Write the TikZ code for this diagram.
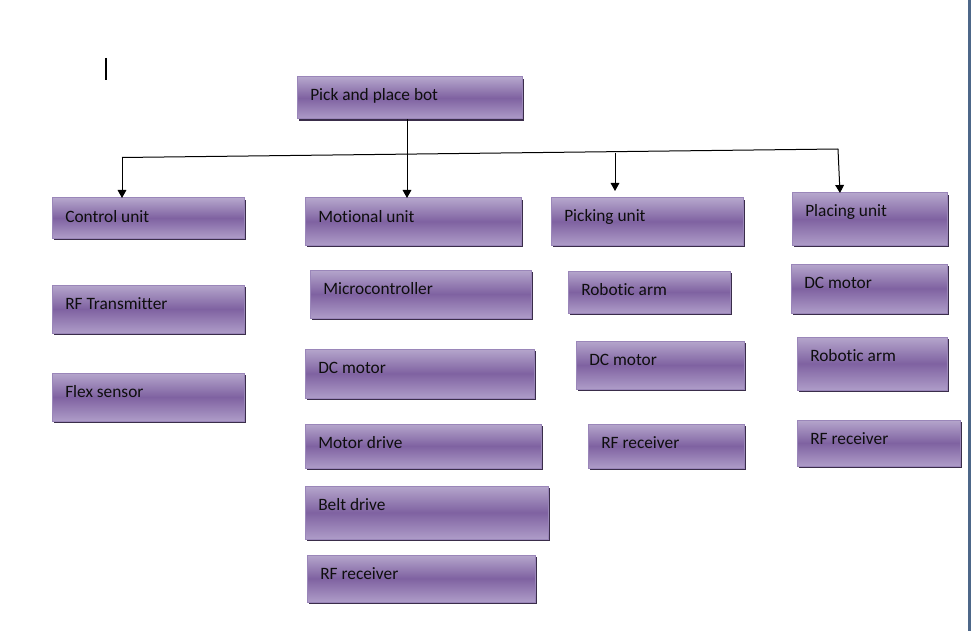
\documentclass[tikz,border=0pt]{standalone}
\usepackage{fontspec}
\setmainfont{Carlito}[Ligatures=NoCommon]
\usetikzlibrary{arrows.meta,shadows}

\definecolor{boxtop}{HTML}{B5A6CC}
\definecolor{boxmid}{HTML}{7F62A1}
\definecolor{boxbot}{HTML}{AE9CC8}
\definecolor{boxedge}{HTML}{9A86B9}
\definecolor{boxshadow}{HTML}{3A2D4A}
\definecolor{edgebar}{HTML}{4D6789}
\definecolor{labelink}{HTML}{0E0E0E}

\tikzset{
  blockbox/.style={
    rectangle, inner sep=0pt, outer sep=0pt,
    draw=boxedge, line width=0.75pt,
    top color=boxtop, bottom color=boxbot, middle color=boxmid,
    general shadow={shadow xshift=1.6pt, shadow yshift=-1.6pt, fill=boxshadow}
  },
  boxlabel/.style={anchor=west, inner sep=0pt, text=labelink, font=\fontsize{13pt}{15pt}\selectfont},
  wire/.style={draw=black, line width=0.75pt},
  feed/.style={wire, -{Triangle[width=6.5pt,length=6pt]}}
}

% #1 name, #2 left, #3 top, #4 right, #5 bottom (pixel units), #6 text
\newcommand\unitblock[6]{%
  \node[blockbox, minimum width={(#4-#2)*0.75pt}, minimum height={(#5-#3)*0.75pt}]
    (#1) at ({(#2+#4)/2},{(#3+#5)/2}) {};
  \node[boxlabel] (#1-t) at ([shift={(13,18.5)}]#1.north west) {#6};}

\begin{document}
\begin{tikzpicture}[x=0.75pt, y=-0.75pt]
  \useasboundingbox[fill=white] (0,0) rectangle (971,631);

  % right page edge
  \fill[edgebar] (968,0) rectangle (971,631);

  % text cursor
  \draw[line width=1.5pt] (105.5,58) -- (105.5,80);

  % top of the tree
  \unitblock{root}{297}{77}{522}{119}{Pick and place bot}

  % control unit column
  \unitblock{ctrl}{52}{198}{244}{238}{Control unit}
  \unitblock{rftx}{52}{285}{244}{333}{RF Transmitter}
  \unitblock{flex}{52}{373}{244}{421}{Flex sensor}

  % motional unit column
  \unitblock{motion}{305}{198}{521}{245}{Motional unit}
  \unitblock{mcu}{310}{270}{531}{318}{Microcontroller}
  \unitblock{mdc}{305}{349}{534}{398}{DC motor}
  \unitblock{mdrive}{305}{424}{541}{468}{Motor drive}
  \unitblock{belt}{305}{486}{548}{539}{Belt drive}
  \unitblock{mrf}{307}{555}{535}{602}{RF receiver}

  % picking unit column
  \unitblock{pick}{551}{198}{743}{245}{Picking unit}
  \unitblock{parm}{568}{271}{730}{313}{Robotic arm}
  \unitblock{pdc}{576}{341}{744}{389}{DC motor}
  \unitblock{prf}{588}{424}{744}{468}{RF receiver}

  % placing unit column
  \unitblock{place}{792}{193}{947}{245}{Placing unit}
  \unitblock{ldc}{791}{264}{947}{313}{DC motor}
  \unitblock{larm}{797}{337}{947}{390}{Robotic arm}
  \unitblock{lrf}{797}{420}{960}{466}{RF receiver}

  % distribution bus
  \coordinate (busL) at (122,157.5);
  \coordinate (busM) at (407,155);
  \coordinate (busP) at (615,152.7);
  \coordinate (busR) at (838,149);
  \coordinate (pickEnd) at (615,191);

  \draw[wire] (busL) -- (busR);
  \draw[feed] (root.south -| busM) -- (motion.north -| busM);
  \draw[feed] (busL) -- (busL |- ctrl.north);
  \draw[feed] (busP) -- (pickEnd);
  \draw[feed] (busR) -- ([shift={(-29.5,0)}]place.north);
\end{tikzpicture}
\end{document}
